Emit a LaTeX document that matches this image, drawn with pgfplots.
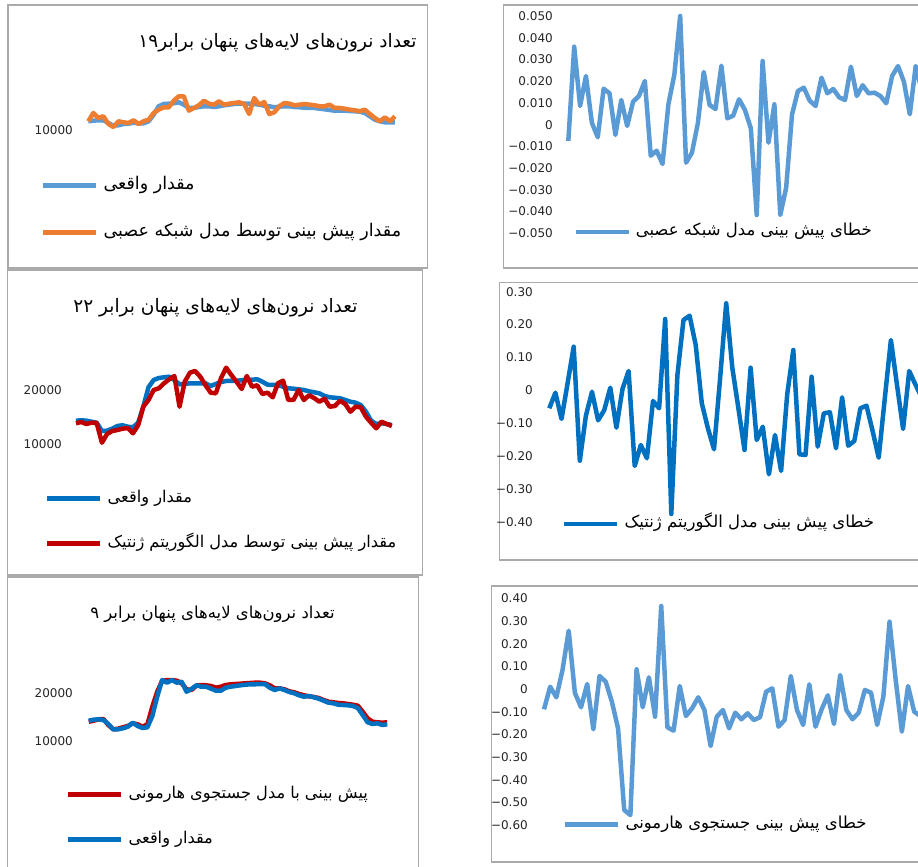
\documentclass[border=0pt]{standalone}
\usepackage{fontspec}
\setmainfont{DejaVu Sans}
\newfontfamily\fa[Script=Arabic]{DejaVu Sans}
\usepackage{pgfplots}
\pgfplotsset{compat=1.18}
\TeXXeTstate=1
\definecolor{lb}{HTML}{5B9BD5}
\definecolor{db}{HTML}{0070C0}
\definecolor{orng}{HTML}{ED7D31}
\definecolor{rd}{HTML}{C00000}
\definecolor{frame}{HTML}{AAAAAA}
\pgfplotsset{
 panel/.style={scale only axis, y dir=reverse,
  axis line style={draw=none}, xtick=\empty, ytick style={draw=none},
  yticklabel style={font=\fontsize{12}{14}\selectfont, text=black!85, anchor=east, inner sep=0pt, xshift=-3pt},
  legend cell align=left,
  legend image code/.code={\draw[##1] (0pt,0pt) -- (53pt,0pt);},
  legend style={draw=none, fill=none, inner sep=0pt, anchor=north west, yshift=-2pt,
    font=\fa\fontsize{16.5}{19}\selectfont, nodes={inner sep=2pt, text height=12pt, text depth=5pt},
    /tikz/every odd column/.append style={column sep=3pt}},
  every axis plot/.append style={line width=4.5pt, line join=round, no marks}},
 leftleg/.style={legend style={font=\fa\fontsize{#1}{20}\selectfont}},
}
\begin{document}
\begin{tikzpicture}[x=1pt,y=1pt]
\useasboundingbox (0,0) rectangle (918,867);
\clip (0,0) rectangle (918,867);
% frames
\draw[frame, line width=1.3pt] (8,862) rectangle (427.3,599);
\draw[frame, line width=1.3pt] (503.3,862) rectangle (940,599);
\draw[frame, line width=1.3pt] (7.3,597) rectangle (422.7,292);
\draw[frame, line width=1.3pt] (499.3,584.7) rectangle (940,307);
\draw[frame, line width=1.3pt] (7.3,290) rectangle (418.7,-10);
\draw[frame, line width=1.3pt] (491.7,281) rectangle (940,5);
% titles
\node[font=\fa\fontsize{18.5}{21}\selectfont] at (277.5,824) {\beginR تعداد نرون‌های لایه‌های پنهان برابر۱۹\endR};
\node[font=\fa\fontsize{18.5}{21}\selectfont] at (215.5,559) {\beginR تعداد نرون‌های لایه‌های پنهان برابر ۲۲\endR};
\node[font=\fa\fontsize{16.5}{19}\selectfont] at (212.5,253) {\beginR تعداد نرون‌های لایه‌های پنهان برابر ۹\endR};

% Panel A
\begin{axis}[panel, leftleg=17.5, at={(76pt,612pt)}, width=344pt, height=235pt,
  xmin=-1.447, xmax=66.98, ymin=20, ymax=255,
  ytick={130}, yticklabels={10000},
  legend style={at={(axis description cs:-0.102,0.349)}, row sep=26pt}]
\addplot[lb] coordinates {(1,121.3)(2,120.7)(3,120.3)(4,120.3)(5,123)(6,125.7)(7,125.3)(8,124)(9,123.7)(10,122.7)(11,123.3)(12,123.3)(13,121.3)(14,114.7)(15,106.3)(16,104)(17,103.7)(18,103.3)(19,102.3)(20,104.7)(21,108)(22,108)(23,107)(24,106.3)(25,106.3)(26,107)(27,106.3)(28,105.3)(29,104.7)(30,104)(31,103.7)(32,103.7)(33,103.7)(34,104)(35,104.7)(36,105.7)(37,106.3)(38,107.3)(39,106.7)(40,106.3)(41,106.3)(42,107)(43,107.3)(44,107.7)(45,108)(46,108)(47,108.7)(48,109.3)(49,110)(50,110.7)(51,110.7)(52,110.7)(53,111)(54,111.3)(55,111.7)(56,113)(57,116.3)(58,119.7)(59,121.3)(60,122.3)(61,122.3)(62,122.3)};
\addlegendentry{\beginR مقدار واقعی\endR}
\addplot[orng] coordinates {(1,121.3)(2,113)(3,118)(4,116.3)(5,124)(6,127)(7,121.3)(8,122.3)(9,123)(10,120.3)(11,124)(12,121.3)(13,119.7)(14,113)(15,109.7)(16,107.3)(17,107.3)(18,100.7)(19,96.3)(20,96.3)(21,110.7)(22,108)(23,105.3)(24,100.7)(25,103.7)(26,104.7)(27,101.3)(28,104.7)(29,103.7)(30,103)(31,102.3)(32,104)(33,114)(34,98)(35,104.7)(36,102)(37,114)(38,112.3)(39,106.3)(40,103)(41,103.7)(42,105.3)(43,104.7)(44,104)(45,104.7)(46,105.3)(47,106.3)(48,106.3)(49,104.7)(50,108)(51,108)(52,108.7)(53,109.7)(54,110.3)(55,111.3)(56,109.7)(57,114)(58,118)(59,121.3)(60,117.3)(61,121.3)(62,116.3)};
\addlegendentry{\beginR مقدار پیش بینی توسط مدل شبکه عصبی\endR}
\end{axis}

% Panel B
\begin{axis}[panel, at={(556pt,605pt)}, width=379pt, height=254pt,
  xmin=-1.09, xmax=63.28, ymin=8, ymax=262,
  ytick={16,37.73,59.46,81.19,102.92,124.65,146.38,168.11,189.84,211.57,233.3},
  yticklabels={0.050,0.040,0.030,0.020,0.010,0,−0.010,−0.020,−0.030,−0.040,−0.050},
  legend style={at={(axis description cs:0.045,0.169)}}]
\addplot[lb] coordinates {(1,141)(2,46.7)(3,106)(4,76)(5,122.7)(6,137.3)(7,88.7)(8,93.3)(9,135)(10,100)(11,126)(12,101.7)(13,96)(14,81)(15,155.7)(16,150.7)(17,164)(18,104.3)(19,75)(20,16)(21,162.7)(22,152.7)(23,123.3)(24,72)(25,105)(26,109)(27,65.7)(28,118.3)(29,115.7)(30,99.3)(31,110)(32,128.3)(33,215)(34,61)(35,142.7)(36,104.3)(37,215)(38,187.7)(39,114.3)(40,91)(41,87.7)(42,100.7)(43,106)(44,77.7)(45,93.3)(46,89)(47,97.3)(48,100)(49,66.7)(50,96)(51,85.3)(52,93.3)(53,92.7)(54,96)(55,103.3)(56,76)(57,66)(58,81.7)(59,114.3)(60,66)(61,90)(62,100)};
\addlegendentry{\beginR خطای پیش بینی مدل شبکه عصبی\endR}
\end{axis}

% Panel C
\begin{axis}[panel, leftleg=16.2, at={(65pt,297pt)}, width=350pt, height=285pt,
  xmin=-1.125, xmax=66.48, ymin=285, ymax=570,
  ytick={390,444}, yticklabels={20000,10000},
  legend style={at={(axis description cs:-0.057,0.295)}, row sep=24pt}]
\addplot[db] coordinates {(1,420.7)(2,420.3)(3,420.7)(4,421.7)(5,422.7)(6,431)(7,430.7)(8,428.7)(9,426)(10,425.3)(11,426.7)(12,427.3)(13,422.7)(14,406.7)(15,387.3)(16,380)(17,378)(18,377.3)(19,376.7)(20,380)(21,384.3)(22,384)(23,383.3)(24,383.3)(25,383.3)(26,383.3)(27,386)(28,384)(29,382)(30,381)(31,381)(32,380.7)(33,380.3)(34,380)(35,379.7)(36,379.3)(37,381.7)(38,384.7)(39,385)(40,385)(41,386.7)(42,388.3)(43,388.7)(44,389.3)(45,390)(46,391.3)(47,392.3)(48,393.3)(49,396)(50,397.3)(51,397.7)(52,398.3)(53,400)(54,401.7)(55,402.7)(56,405)(57,411.7)(58,420.7)(59,424)(60,423.3)(61,424)(62,425)};
\addlegendentry{\beginR مقدار واقعی\endR}
\addplot[rd] coordinates {(1,423.3)(2,422)(3,424)(4,422.7)(5,423)(6,442.7)(7,434)(8,431)(9,430)(10,428.7)(11,428)(12,433.3)(13,425.3)(14,406.7)(15,400)(16,390)(17,388.3)(18,383.3)(19,379.3)(20,376)(21,406.7)(22,381.7)(23,372.7)(24,371)(25,376.7)(26,385)(27,392.7)(28,393.3)(29,378.3)(30,367.7)(31,375)(32,381.7)(33,389)(34,376)(35,386.7)(36,385.3)(37,394)(38,392.7)(39,397.3)(40,383.3)(41,380.7)(42,400)(43,400)(44,390)(45,400)(46,395.3)(47,398)(48,401.7)(49,398.7)(50,406.7)(51,406)(52,400.7)(53,404)(54,411.7)(55,406.7)(56,407.3)(57,416.7)(58,422.7)(59,428.3)(60,421.7)(61,424)(62,426)};
\addlegendentry{\beginR مقدار پیش بینی توسط مدل الگوریتم ژنتیک\endR}
\end{axis}

% Panel D
\begin{axis}[panel, at={(536pt,311pt)}, width=399pt, height=272pt,
  xmin=-1.18, xmax=64.23, ymin=284, ymax=556,
  ytick={291.7,324.56,357.41,390.27,423.13,455.99,488.84,521.7},
  yticklabels={0.30,0.20,0.10,0,−0.10,−0.20,−0.30,−0.40},
  legend style={at={(axis description cs:0.065,0.165)}}]
\addplot[db] coordinates {(1,408.3)(2,392.7)(3,419)(4,383.3)(5,346.7)(6,460.7)(7,415.7)(8,391.7)(9,420.3)(10,410.3)(11,387.7)(12,427.7)(13,389)(14,371)(15,466)(16,445)(17,458.3)(18,401)(19,408.3)(20,319)(21,514)(22,375)(23,320)(24,315.7)(25,345)(26,403.3)(27,428.3)(28,449.3)(29,378.3)(30,303.3)(31,367.7)(32,408.3)(33,450)(34,367.7)(35,440)(36,426.7)(37,474.3)(38,435)(39,471)(40,394.3)(41,350)(42,454.3)(43,455)(44,376.7)(45,446.7)(46,413.3)(47,412.3)(48,448.3)(49,397.3)(50,445.7)(51,441)(52,408.3)(53,405.7)(54,431)(55,457.7)(56,398.3)(57,340)(58,385)(59,429)(60,371)(61,384.3)(62,396.7)(63,410)};
\addlegendentry{\beginR خطای پیش بینی مدل الگوریتم ژنتیک\endR}
\end{axis}

% Panel E
\begin{axis}[panel, leftleg=16.2, at={(76pt,0pt)}, width=339pt, height=277pt,
  xmin=-1.6, xmax=67.69, ymin=590, ymax=867,
  ytick={693,741}, yticklabels={20000,10000},
  legend style={at={(axis description cs:-0.0295,0.307)}, row sep=24pt}]
\addplot[rd] coordinates {(1,721.7)(2,720.7)(3,719.3)(4,719)(5,725)(6,729.3)(7,728.7)(8,727.3)(9,726)(10,723.3)(11,724.3)(12,726.7)(13,724.3)(14,706.7)(15,691.7)(16,681)(17,680)(18,680)(19,680.7)(20,683.3)(21,689.3)(22,690)(23,685.7)(24,685)(25,685.3)(26,686)(27,687.7)(28,686.7)(29,685)(30,684.3)(31,684)(32,683.7)(33,683.3)(34,683)(35,682.7)(36,682.7)(37,683.3)(38,685.3)(39,688.3)(40,688.3)(41,689.3)(42,691.3)(43,692.3)(44,694)(45,695.3)(46,696.3)(47,697)(48,698)(49,700)(50,701.7)(51,702.3)(52,703)(53,703.3)(54,704)(55,704.7)(56,705.7)(57,711.7)(58,718.3)(59,721.7)(60,722.3)(61,722.7)(62,722.3)};
\addlegendentry{\beginR پیش بینی با مدل جستجوی هارمونی\endR}
\addplot[db] coordinates {(1,720.7)(2,719.7)(3,719.3)(4,720)(5,724)(6,729.3)(7,729.3)(8,728.3)(9,726.7)(10,722.7)(11,726)(12,728)(13,727.3)(14,716)(15,696.7)(16,680)(17,682.7)(18,680)(19,682.7)(20,681.7)(21,691.7)(22,689)(23,685.3)(24,686.7)(25,686.7)(26,688.7)(27,690.7)(28,690.7)(29,687.7)(30,686.7)(31,686)(32,685.3)(33,684.7)(34,684.3)(35,684.3)(36,684)(37,684)(38,687.7)(39,690)(40,688.3)(41,690)(42,692)(43,693.3)(44,695.3)(45,696.7)(46,696)(47,697.3)(48,698.7)(49,700.7)(50,702.7)(51,703.3)(52,704.7)(53,705)(54,705.3)(55,706)(56,708)(57,715)(58,722.3)(59,724)(60,723.3)(61,725)(62,724.3)};
\addlegendentry{\beginR مقدار واقعی\endR}
\end{axis}

% Panel F
\begin{axis}[panel, at={(531pt,9pt)}, width=404pt, height=268pt,
  xmin=-1.107, xmax=64.37, ymin=590, ymax=858,
  ytick={598.3,620.97,643.64,666.31,688.98,711.65,734.32,756.99,779.66,802.33,825},
  yticklabels={0.40,0.30,0.20,0.10,0,−0.10,−0.20,−0.30,−0.40,−0.50,−0.60},
  legend style={at={(axis description cs:0.079,0.172)}}]
\addplot[lb] coordinates {(1,709.3)(2,686.7)(3,697.3)(4,670)(5,630.7)(6,692.7)(7,707.3)(8,684)(9,729.3)(10,676)(11,681.7)(12,701.7)(13,728.3)(14,810)(15,815)(16,669.3)(17,707.3)(18,677.3)(19,716.7)(20,606)(21,727.3)(22,730.7)(23,686)(24,716)(25,708.3)(26,697.3)(27,710)(28,746)(29,716.7)(30,710)(31,728.3)(32,712.7)(33,719.3)(34,713.3)(35,720)(36,717.3)(37,691.7)(38,688.3)(39,726.7)(40,720)(41,676)(42,710)(43,725)(44,684.3)(45,726.7)(46,709.3)(47,695.3)(48,724)(49,675)(50,710)(51,719.3)(52,712.7)(53,690)(54,692.7)(55,725)(56,696.7)(57,621.7)(58,680)(59,731.7)(60,686)(61,711.7)(62,716)(63,712)};
\addlegendentry{\beginR خطای پیش بینی جستجوی هارمونی\endR}
\end{axis}
\end{tikzpicture}
\end{document}
